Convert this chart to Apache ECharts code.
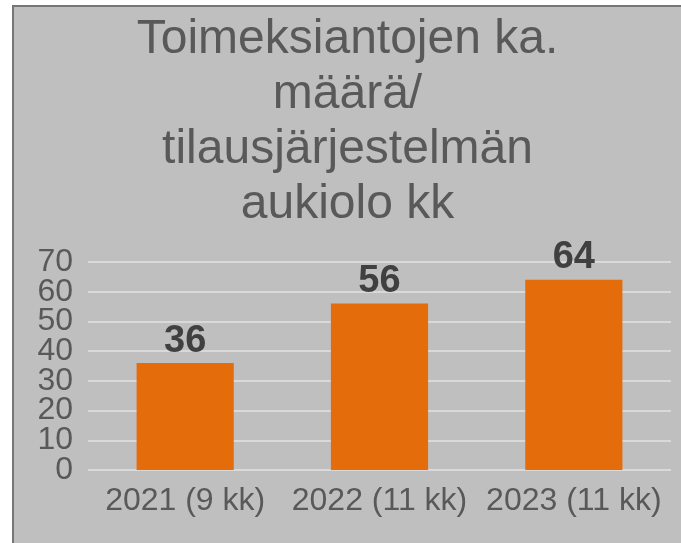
<!DOCTYPE html>
<html>
<head>
<meta charset="utf-8">
<script src="https://cdn.jsdelivr.net/npm/echarts@6/dist/echarts.min.js"></script>
<style>
  html, body { margin: 0; padding: 0; background: #fff; }
  #frame {
    position: absolute; left: 12px; top: 5px;
    width: 667px; height: 536px;
    border-left: 2px solid #767676; border-top: 2px solid #767676;
    background: #bfbfbf;
  }
  #chart { width: 667px; height: 536px; }
</style>
</head>
<body>
<div id="frame"><div id="chart"></div></div>
<script>
const categories = ['2021 (9 kk)', '2022 (11 kk)', '2023 (11 kk)']
const values = [36, 56, 64]
const titleText = 'Toimeksiantojen ka.\nmäärä/\ntilausjärjestelmän\naukiolo kk'

const font = 'Liberation Sans, Arial, sans-serif'

// two stacked y axes share the same scale; each draws every other label
// so the tightly packed tick labels are not dropped as overlapping
function yAxisFor (showEven, grid) {
  return {
    type: 'value',
    position: 'left',
    min: 0,
    max: 70,
    interval: 10,
    axisLine: { show: false },
    axisTick: { show: false },
    axisLabel: {
      fontFamily: font,
      fontSize: 32,
      color: '#595959',
      margin: 15,
      formatter: v => ((v / 10) % 2 === 0) === showEven ? String(v) : ''
    },
    splitLine: { show: grid, lineStyle: { color: '#d9d9d9', width: 2 } }
  }
}

const chart = echarts.init(document.getElementById('chart'))
chart.setOption({
  backgroundColor: 'transparent',
  title: {
    text: titleText,
    left: 'center',
    top: 0,
    textStyle: { fontFamily: font, fontSize: 48, fontWeight: 'normal', color: '#595959', lineHeight: 55 }
  },
  grid: { left: 74, right: 10, top: 255, bottom: 73 },
  xAxis: {
    type: 'category',
    data: categories,
    axisLine: { show: false },
    axisTick: { show: false },
    axisLabel: { fontFamily: font, fontSize: 32, color: '#595959', margin: 15, interval: 0, hideOverlap: false }
  },
  yAxis: [yAxisFor(true, true), yAxisFor(false, false)],
  series: [{
    type: 'bar',
    data: values,
    barWidth: '50%',
    itemStyle: { color: '#e46c0a' },
    label: {
      show: true,
      position: 'top',
      distance: 3,
      fontFamily: font,
      fontSize: 38,
      fontWeight: 'bold',
      color: '#404040'
    }
  }]
})
</script>
</body>
</html>
